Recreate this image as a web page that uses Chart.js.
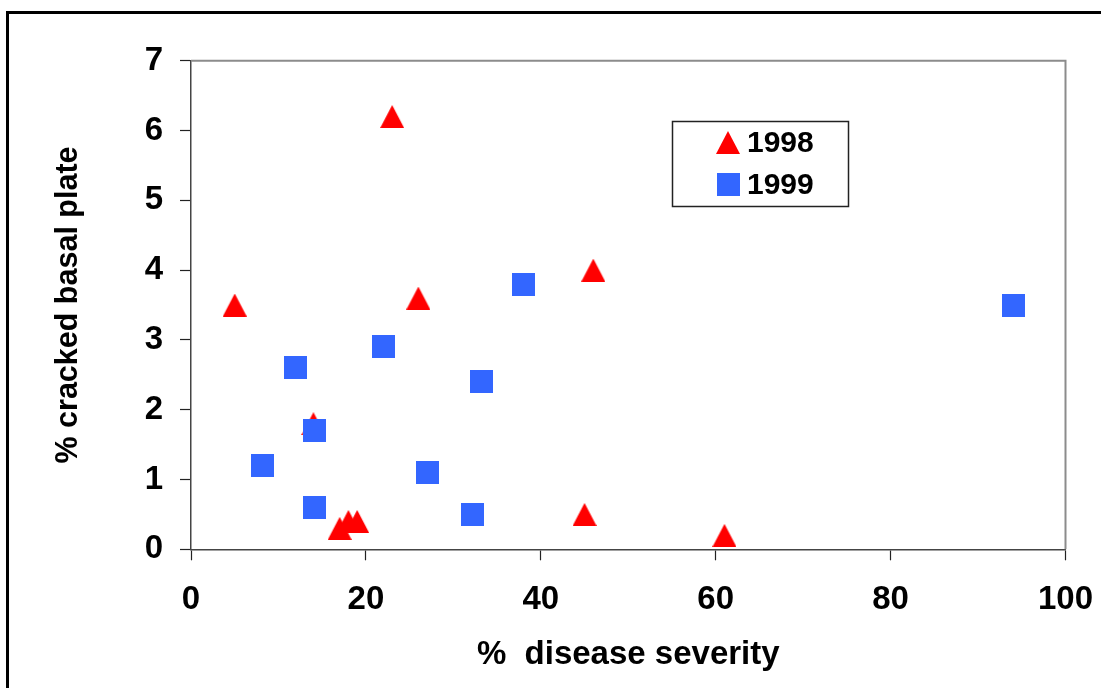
<!DOCTYPE html>
<html><head><meta charset="utf-8">
<script src="https://cdn.jsdelivr.net/npm/chart.js@4"></script>
<style>html,body{margin:0;padding:0;background:#fff;overflow:hidden}#wrap{width:1101px;height:688px;position:relative}</style>
</head><body><div id="wrap"><canvas id="c" width="1101" height="688"></canvas></div>
<script>
// ---- data ----
const seriesLabels = ['1998', '1999'];
const severity1998 = [23, 5, 26, 46, 14, 17, 18, 19, 45, 61];
const cracked1998  = [6.2, 3.5, 3.6, 4.0, 1.8, 0.3, 0.4, 0.4, 0.5, 0.2];
const severity1999 = [8.2, 12, 14.1, 14.1, 22, 27.1, 32.2, 33.2, 38, 94];
const cracked1999  = [1.2, 2.6, 1.7, 0.6, 2.9, 1.1, 0.5, 2.4, 3.8, 3.5];
const xTicks = [0, 20, 40, 60, 80, 100];
const yTicks = [0, 1, 2, 3, 4, 5, 6, 7];
const xTitle = '%  disease severity';
const yTitle = '% cracked basal plate';

// ---- marker images ----
function makeTriangle(w, h, color) {
  const c = document.createElement('canvas');
  c.width = w; c.height = h;
  const g = c.getContext('2d');
  g.fillStyle = color;
  g.beginPath(); g.moveTo(w / 2, 0); g.lineTo(w, h); g.lineTo(0, h); g.closePath(); g.fill();
  return c;
}
function makeSquare(s, color) {
  const c = document.createElement('canvas');
  c.width = s; c.height = s;
  const g = c.getContext('2d');
  g.fillStyle = color; g.fillRect(0, 0, s, s);
  return c;
}
const RED = '#ff0000', BLUE = '#3366ff';
const triImg = makeTriangle(24, 23, RED);
const sqImg = makeSquare(23, BLUE);

const FONT = '"Liberation Sans", Arial, Helvetica, sans-serif';
const zip = (xs, ys) => xs.map((x, i) => ({ x, y: ys[i] }));

const framePlugin = {
  id: 'frame',
  beforeDraw(chart) {
    const ctx = chart.ctx;
    ctx.save();
    ctx.fillStyle = '#fff';
    ctx.fillRect(0, 0, chart.width, chart.height);
    ctx.strokeStyle = '#000';
    ctx.lineWidth = 3;
    ctx.beginPath();
    ctx.moveTo(7.5, chart.height + 10);
    ctx.lineTo(7.5, 12.5);
    ctx.lineTo(chart.width + 10, 12.5);
    ctx.stroke();
    ctx.restore();
  },
  beforeDatasetsDraw(chart) {
    const a = chart.chartArea, ctx = chart.ctx;
    ctx.save();
    ctx.strokeStyle = '#8c8c8c';
    ctx.lineWidth = 2;
    ctx.beginPath();
    ctx.moveTo(a.left, a.top);
    ctx.lineTo(a.right, a.top);
    ctx.lineTo(a.right, a.bottom);
    ctx.stroke();
    ctx.restore();
  },
  afterDraw(chart) {
    const ctx = chart.ctx;
    ctx.save();
    // legend box
    ctx.fillStyle = '#fff';
    ctx.fillRect(672, 121, 177, 86);
    ctx.strokeStyle = '#222';
    ctx.lineWidth = 1.5;
    ctx.strokeRect(672.5, 121.5, 176, 85);
    const imgs = [triImg, sqImg];
    const ys = [142.5, 184.5];
    ctx.font = 'bold 30px ' + FONT;
    ctx.fillStyle = '#000';
    ctx.textBaseline = 'middle';
    ctx.textAlign = 'left';
    chart.data.datasets.forEach((ds, i) => {
      const im = imgs[i];
      ctx.drawImage(im, 728 - im.width / 2, ys[i] - im.height / 2);
      ctx.fillText(ds.label, 747, ys[i] + 1);
    });
    ctx.restore();
  }
};

new Chart(document.getElementById('c'), {
  type: 'scatter',
  data: {
    datasets: [
      { label: seriesLabels[0], order: 2, data: zip(severity1998, cracked1998), pointStyle: triImg, backgroundColor: RED, borderColor: RED },
      { label: seriesLabels[1], order: 1, data: zip(severity1999, cracked1999), pointStyle: sqImg, backgroundColor: BLUE, borderColor: BLUE }
    ]
  },
  options: {
    responsive: false,
    animation: false,
    devicePixelRatio: 1,
    layout: { padding: { top: 60.7, right: 35.5, left: 0, bottom: 0 } },
    plugins: { legend: { display: false }, tooltip: { enabled: false } },
    scales: {
      x: {
        type: 'linear', min: 0, max: 100,
        afterBuildTicks(s) { s.ticks = xTicks.map(v => ({ value: v })); },
        afterFit(s) { s.height = 138.7; s.paddingLeft = 0; s.paddingRight = 0; },
        grid: { drawOnChartArea: false, drawTicks: true, tickLength: 11, tickColor: '#222', tickWidth: 1.2 },
        border: { display: true, color: '#444', width: 1.5 },
        ticks: { color: '#000', padding: 20, maxRotation: 0, font: { family: FONT, size: 33, weight: 'bold' } },
        title: { display: true, text: xTitle, color: '#000', padding: { top: 0, bottom: 12.9 }, font: { family: FONT, size: 33, weight: 'bold' } }
      },
      y: {
        type: 'linear', min: 0, max: 7,
        afterBuildTicks(s) { s.ticks = yTicks.map(v => ({ value: v })); },
        afterFit(s) { s.width = 191; s.paddingTop = 0; s.paddingBottom = 0; },
        grid: { drawOnChartArea: false, drawTicks: true, tickLength: 11, tickColor: '#222', tickWidth: 1.2 },
        border: { display: true, color: '#444', width: 1.5 },
        ticks: { color: '#000', padding: 17, font: { family: FONT, size: 33, weight: 'bold' } },
        title: { display: true, text: yTitle, color: '#000', padding: { top: 50.6, bottom: 0 }, font: { family: FONT, size: 30.5, weight: 'bold' } }
      }
    }
  },
  plugins: [framePlugin]
});
</script></body></html>
